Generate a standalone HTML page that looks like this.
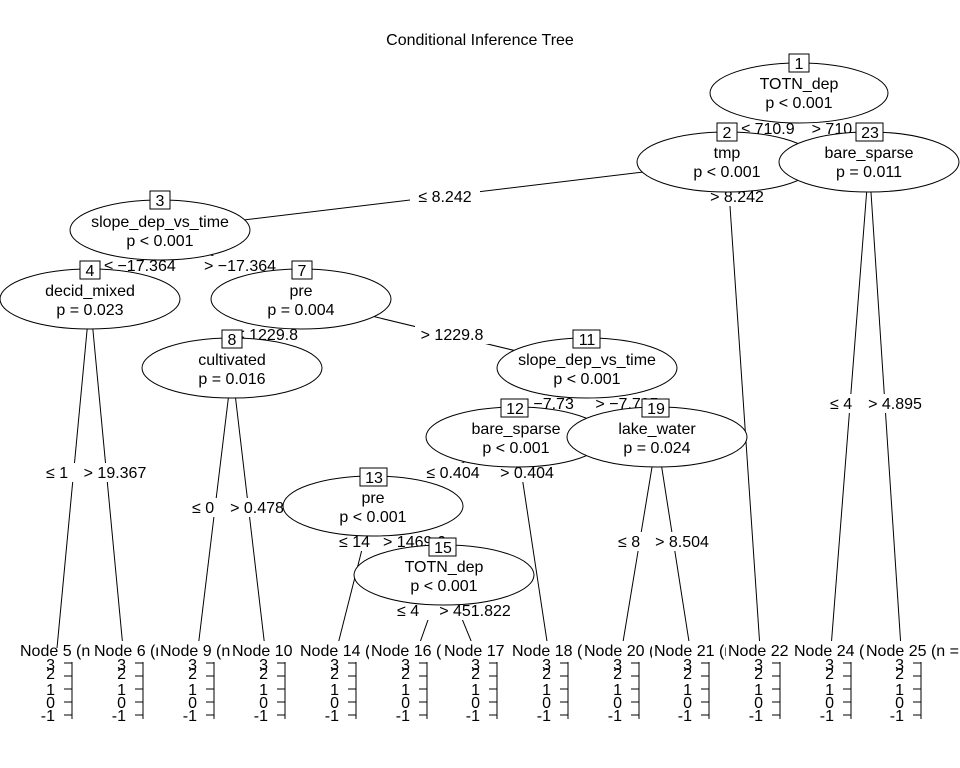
<!DOCTYPE html>
<html><head><meta charset="utf-8"><style>
html,body{margin:0;padding:0;background:#fff}
svg{display:block}
text{font-family:"Liberation Sans",sans-serif;font-size:16px;fill:#000}
.n{text-anchor:middle}
</style></head><body>
<svg width="960" height="768" viewBox="0 0 960 768">
<defs>
<g id="ax">
<g stroke="#000"><line x1="72" y1="662" x2="72" y2="719"/><line x1="64" y1="663" x2="72" y2="663"/><line x1="64" y1="676" x2="72" y2="676"/><line x1="64" y1="689" x2="72" y2="689"/><line x1="64" y1="702" x2="72" y2="702"/><line x1="64" y1="715" x2="72" y2="715"/></g>
</g>
</defs>
<rect width="960" height="768" fill="#fff"/>
<text x="480" y="45" class="n">Conditional Inference Tree</text>
<g stroke="#000" stroke-width="1" fill="none">
<line x1="799" y1="93" x2="727" y2="162"/><line x1="799" y1="93" x2="869" y2="162"/>
<line x1="727" y1="162" x2="160" y2="230"/><line x1="727" y1="162" x2="760" y2="648"/>
<line x1="869" y1="162" x2="831" y2="648"/><line x1="869" y1="162" x2="901" y2="648"/>
<line x1="160" y1="230" x2="90" y2="299"/><line x1="160" y1="230" x2="301" y2="299"/>
<line x1="90" y1="299" x2="57" y2="648"/><line x1="90" y1="299" x2="123" y2="648"/>
<line x1="301" y1="299" x2="232" y2="368"/><line x1="301" y1="299" x2="587" y2="368"/>
<line x1="232" y1="368" x2="198" y2="648"/><line x1="232" y1="368" x2="265" y2="648"/>
<line x1="587" y1="368" x2="516" y2="437"/><line x1="587" y1="368" x2="657" y2="437"/>
<line x1="516" y1="437" x2="373" y2="506"/><line x1="516" y1="437" x2="548" y2="648"/>
<line x1="373" y1="506" x2="337" y2="648"/><line x1="373" y1="506" x2="444" y2="575"/>
<line x1="444" y1="575" x2="418" y2="648"/><line x1="444" y1="575" x2="474" y2="648"/>
<line x1="657" y1="437" x2="622" y2="648"/><line x1="657" y1="437" x2="690" y2="648"/>
</g>
<g>
<rect x="732" y="119" width="72" height="19" fill="#fff"/><text x="768" y="134" class="n">≤ 710.9</text>
<rect x="805" y="119" width="76" height="19" fill="#fff"/><text x="843" y="134" class="n">&gt; 710.95</text>
<rect x="410" y="187" width="70" height="19" fill="#fff"/><text x="445" y="202" class="n">≤ 8.242</text>
<rect x="702" y="187" width="70" height="19" fill="#fff"/><text x="737" y="202" class="n">&gt; 8.242</text>
<rect x="112" y="256" width="66" height="19" fill="#fff"/><text x="140" y="271" class="n">≤ −17.364</text>
<rect x="196" y="256" width="88" height="19" fill="#fff"/><text x="240" y="271" class="n">&gt; −17.364</text>
<rect x="44" y="463" width="38" height="19" fill="#fff"/><text x="46" y="478">≤ 1</text>
<rect x="78" y="463" width="74" height="19" fill="#fff"/><text x="115" y="478" class="n">&gt; 19.367</text>
<rect x="230" y="325" width="74" height="19" fill="#fff"/><text x="267" y="340" class="n">≤ 1229.8</text>
<rect x="415" y="325" width="74" height="19" fill="#fff"/><text x="452" y="340" class="n">&gt; 1229.8</text>
<rect x="190" y="498" width="38" height="19" fill="#fff"/><text x="192" y="513">≤ 0</text>
<rect x="226" y="498" width="62" height="19" fill="#fff"/><text x="257" y="513" class="n">&gt; 0.478</text>
<rect x="512" y="394" width="76" height="19" fill="#fff"/><text x="547" y="409" class="n">≤ −7.73</text>
<rect x="589" y="394" width="76" height="19" fill="#fff"/><text x="627" y="409" class="n">&gt; −7.735</text>
<rect x="420" y="463" width="68" height="19" fill="#fff"/><text x="453" y="478" class="n">≤ 0.404</text>
<rect x="494" y="463" width="68" height="19" fill="#fff"/><text x="527" y="478" class="n">&gt; 0.404</text>
<rect x="616" y="532" width="34" height="19" fill="#fff"/><text x="618" y="547">≤ 8</text>
<rect x="648" y="532" width="68" height="19" fill="#fff"/><text x="682" y="547" class="n">&gt; 8.504</text>
<rect x="336" y="532" width="44" height="19" fill="#fff"/><text x="339" y="547">≤ 14</text>
<rect x="380" y="532" width="68" height="19" fill="#fff"/><text x="383" y="547">&gt; 1469.6</text>
<rect x="395" y="601" width="40" height="19" fill="#fff"/><text x="397" y="616">≤ 4</text>
<rect x="430" y="601" width="84" height="19" fill="#fff"/><text x="475" y="616" class="n">&gt; 451.822</text>
<rect x="828" y="394" width="36" height="19" fill="#fff"/><text x="830" y="409">≤ 4</text>
<rect x="862" y="394" width="66" height="19" fill="#fff"/><text x="895" y="409" class="n">&gt; 4.895</text>
</g>
<g stroke="#000" fill="#fff">
<ellipse cx="799" cy="93" rx="89" ry="30"/>
<ellipse cx="727" cy="162" rx="90" ry="30"/>
<ellipse cx="869" cy="162" rx="90" ry="30"/>
<ellipse cx="160" cy="230" rx="90" ry="30"/>
<ellipse cx="90" cy="299" rx="90" ry="30"/>
<ellipse cx="301" cy="299" rx="90" ry="30"/>
<ellipse cx="232" cy="368" rx="90" ry="30"/>
<ellipse cx="587" cy="368" rx="90" ry="30"/>
<ellipse cx="516" cy="437" rx="90" ry="30"/>
<ellipse cx="657" cy="437" rx="90" ry="30"/>
<ellipse cx="373" cy="506" rx="90" ry="30"/>
<ellipse cx="444" cy="575" rx="90" ry="30"/>
</g>
<g>
<text x="799" y="89" class="n">TOTN_dep</text><text x="799" y="108" class="n">p &lt; 0.001</text>
<text x="727" y="158" class="n">tmp</text><text x="727" y="177" class="n">p &lt; 0.001</text>
<text x="869" y="158" class="n">bare_sparse</text><text x="869" y="177" class="n">p = 0.011</text>
<text x="160" y="227" class="n">slope_dep_vs_time</text><text x="160" y="246" class="n">p &lt; 0.001</text>
<text x="90" y="296" class="n">decid_mixed</text><text x="90" y="315" class="n">p = 0.023</text>
<text x="301" y="296" class="n">pre</text><text x="301" y="315" class="n">p = 0.004</text>
<text x="232" y="365" class="n">cultivated</text><text x="232" y="384" class="n">p = 0.016</text>
<text x="587" y="365" class="n">slope_dep_vs_time</text><text x="587" y="384" class="n">p &lt; 0.001</text>
<text x="516" y="434" class="n">bare_sparse</text><text x="516" y="453" class="n">p &lt; 0.001</text>
<text x="657" y="434" class="n">lake_water</text><text x="657" y="453" class="n">p = 0.024</text>
<text x="373" y="503" class="n">pre</text><text x="373" y="522" class="n">p &lt; 0.001</text>
<text x="444" y="572" class="n">TOTN_dep</text><text x="444" y="591" class="n">p &lt; 0.001</text>
</g>
<g stroke="#000" fill="#fff">
<rect x="789" y="54" width="20" height="18"/><rect x="717" y="123" width="20" height="18"/>
<rect x="856" y="123" width="27" height="18"/><rect x="150" y="191" width="20" height="18"/>
<rect x="80" y="261" width="20" height="18"/><rect x="292" y="261" width="20" height="18"/>
<rect x="222" y="330" width="20" height="18"/><rect x="573" y="330" width="27" height="18"/>
<rect x="501" y="399" width="27" height="18"/><rect x="642" y="399" width="27" height="18"/>
<rect x="360" y="468" width="27" height="18"/><rect x="429" y="538" width="27" height="18"/>
</g>
<g>
<text x="799" y="69" class="n">1</text><text x="727" y="138" class="n">2</text>
<text x="870" y="138" class="n">23</text><text x="160" y="206" class="n">3</text>
<text x="90" y="276" class="n">4</text><text x="302" y="276" class="n">7</text>
<text x="232" y="345" class="n">8</text><text x="587" y="345" class="n">11</text>
<text x="515" y="414" class="n">12</text><text x="656" y="414" class="n">19</text>
<text x="374" y="483" class="n">13</text><text x="443" y="553" class="n">15</text>
</g>
<g>
<text x="20" y="656">Node 5 (n</text>
<rect x="92" y="641" width="70" height="19" fill="#fff"/><text x="94" y="656">Node 6 (n</text>
<rect x="158" y="641" width="74" height="19" fill="#fff"/><text x="160" y="656">Node 9 (n =</text>
<rect x="230" y="641" width="72" height="19" fill="#fff"/><text x="232" y="656">Node 10 (</text>
<rect x="298" y="641" width="72" height="19" fill="#fff"/><text x="300" y="656">Node 14 (</text>
<rect x="369" y="641" width="74" height="19" fill="#fff"/><text x="371" y="656">Node 16 (n</text>
<rect x="442" y="641" width="70" height="19" fill="#fff"/><text x="444" y="656">Node 17 (n</text>
<rect x="510" y="641" width="74" height="19" fill="#fff"/><text x="512" y="656">Node 18 (n</text>
<rect x="582" y="641" width="72" height="19" fill="#fff"/><text x="584" y="656">Node 20 (</text>
<rect x="652" y="641" width="74" height="19" fill="#fff"/><text x="654" y="656">Node 21 (n</text>
<rect x="726" y="641" width="68" height="19" fill="#fff"/><text x="728" y="656">Node 22 (</text>
<rect x="792" y="641" width="74" height="19" fill="#fff"/><text x="794" y="656">Node 24 (n</text>
<rect x="864" y="641" width="96" height="19" fill="#fff"/><text x="866" y="656">Node 25 (n =</text>
</g>
<use href="#ax" x="0"/><use href="#ax" x="71"/><use href="#ax" x="142"/><use href="#ax" x="213"/><use href="#ax" x="284"/><use href="#ax" x="355"/><use href="#ax" x="425"/><use href="#ax" x="496"/><use href="#ax" x="567"/><use href="#ax" x="637"/><use href="#ax" x="708"/><use href="#ax" x="779"/><use href="#ax" x="849"/>
<g style="font-size:16px" text-anchor="end">
<text x="55" y="670" text-anchor="end" style="font-size:16px">3</text><text x="55" y="679" text-anchor="end" style="font-size:16px">2</text><text x="55" y="695" text-anchor="end" style="font-size:16px">1</text><text x="55" y="708" text-anchor="end" style="font-size:16px">0</text><text x="55" y="721" text-anchor="end" style="font-size:16px">-1</text>
<text x="126" y="670" text-anchor="end" style="font-size:16px">3</text><text x="126" y="679" text-anchor="end" style="font-size:16px">2</text><text x="126" y="695" text-anchor="end" style="font-size:16px">1</text><text x="126" y="708" text-anchor="end" style="font-size:16px">0</text><text x="126" y="721" text-anchor="end" style="font-size:16px">-1</text>
<text x="197" y="670" text-anchor="end" style="font-size:16px">3</text><text x="197" y="679" text-anchor="end" style="font-size:16px">2</text><text x="197" y="695" text-anchor="end" style="font-size:16px">1</text><text x="197" y="708" text-anchor="end" style="font-size:16px">0</text><text x="197" y="721" text-anchor="end" style="font-size:16px">-1</text>
<text x="268" y="670" text-anchor="end" style="font-size:16px">3</text><text x="268" y="679" text-anchor="end" style="font-size:16px">2</text><text x="268" y="695" text-anchor="end" style="font-size:16px">1</text><text x="268" y="708" text-anchor="end" style="font-size:16px">0</text><text x="268" y="721" text-anchor="end" style="font-size:16px">-1</text>
<text x="339" y="670" text-anchor="end" style="font-size:16px">3</text><text x="339" y="679" text-anchor="end" style="font-size:16px">2</text><text x="339" y="695" text-anchor="end" style="font-size:16px">1</text><text x="339" y="708" text-anchor="end" style="font-size:16px">0</text><text x="339" y="721" text-anchor="end" style="font-size:16px">-1</text>
<text x="410" y="670" text-anchor="end" style="font-size:16px">3</text><text x="410" y="679" text-anchor="end" style="font-size:16px">2</text><text x="410" y="695" text-anchor="end" style="font-size:16px">1</text><text x="410" y="708" text-anchor="end" style="font-size:16px">0</text><text x="410" y="721" text-anchor="end" style="font-size:16px">-1</text>
<text x="480" y="670" text-anchor="end" style="font-size:16px">3</text><text x="480" y="679" text-anchor="end" style="font-size:16px">2</text><text x="480" y="695" text-anchor="end" style="font-size:16px">1</text><text x="480" y="708" text-anchor="end" style="font-size:16px">0</text><text x="480" y="721" text-anchor="end" style="font-size:16px">-1</text>
<text x="551" y="670" text-anchor="end" style="font-size:16px">3</text><text x="551" y="679" text-anchor="end" style="font-size:16px">2</text><text x="551" y="695" text-anchor="end" style="font-size:16px">1</text><text x="551" y="708" text-anchor="end" style="font-size:16px">0</text><text x="551" y="721" text-anchor="end" style="font-size:16px">-1</text>
<text x="622" y="670" text-anchor="end" style="font-size:16px">3</text><text x="622" y="679" text-anchor="end" style="font-size:16px">2</text><text x="622" y="695" text-anchor="end" style="font-size:16px">1</text><text x="622" y="708" text-anchor="end" style="font-size:16px">0</text><text x="622" y="721" text-anchor="end" style="font-size:16px">-1</text>
<text x="692" y="670" text-anchor="end" style="font-size:16px">3</text><text x="692" y="679" text-anchor="end" style="font-size:16px">2</text><text x="692" y="695" text-anchor="end" style="font-size:16px">1</text><text x="692" y="708" text-anchor="end" style="font-size:16px">0</text><text x="692" y="721" text-anchor="end" style="font-size:16px">-1</text>
<text x="763" y="670" text-anchor="end" style="font-size:16px">3</text><text x="763" y="679" text-anchor="end" style="font-size:16px">2</text><text x="763" y="695" text-anchor="end" style="font-size:16px">1</text><text x="763" y="708" text-anchor="end" style="font-size:16px">0</text><text x="763" y="721" text-anchor="end" style="font-size:16px">-1</text>
<text x="834" y="670" text-anchor="end" style="font-size:16px">3</text><text x="834" y="679" text-anchor="end" style="font-size:16px">2</text><text x="834" y="695" text-anchor="end" style="font-size:16px">1</text><text x="834" y="708" text-anchor="end" style="font-size:16px">0</text><text x="834" y="721" text-anchor="end" style="font-size:16px">-1</text>
<text x="904" y="670" text-anchor="end" style="font-size:16px">3</text><text x="904" y="679" text-anchor="end" style="font-size:16px">2</text><text x="904" y="695" text-anchor="end" style="font-size:16px">1</text><text x="904" y="708" text-anchor="end" style="font-size:16px">0</text><text x="904" y="721" text-anchor="end" style="font-size:16px">-1</text>
</g>
</svg>
</body></html>
